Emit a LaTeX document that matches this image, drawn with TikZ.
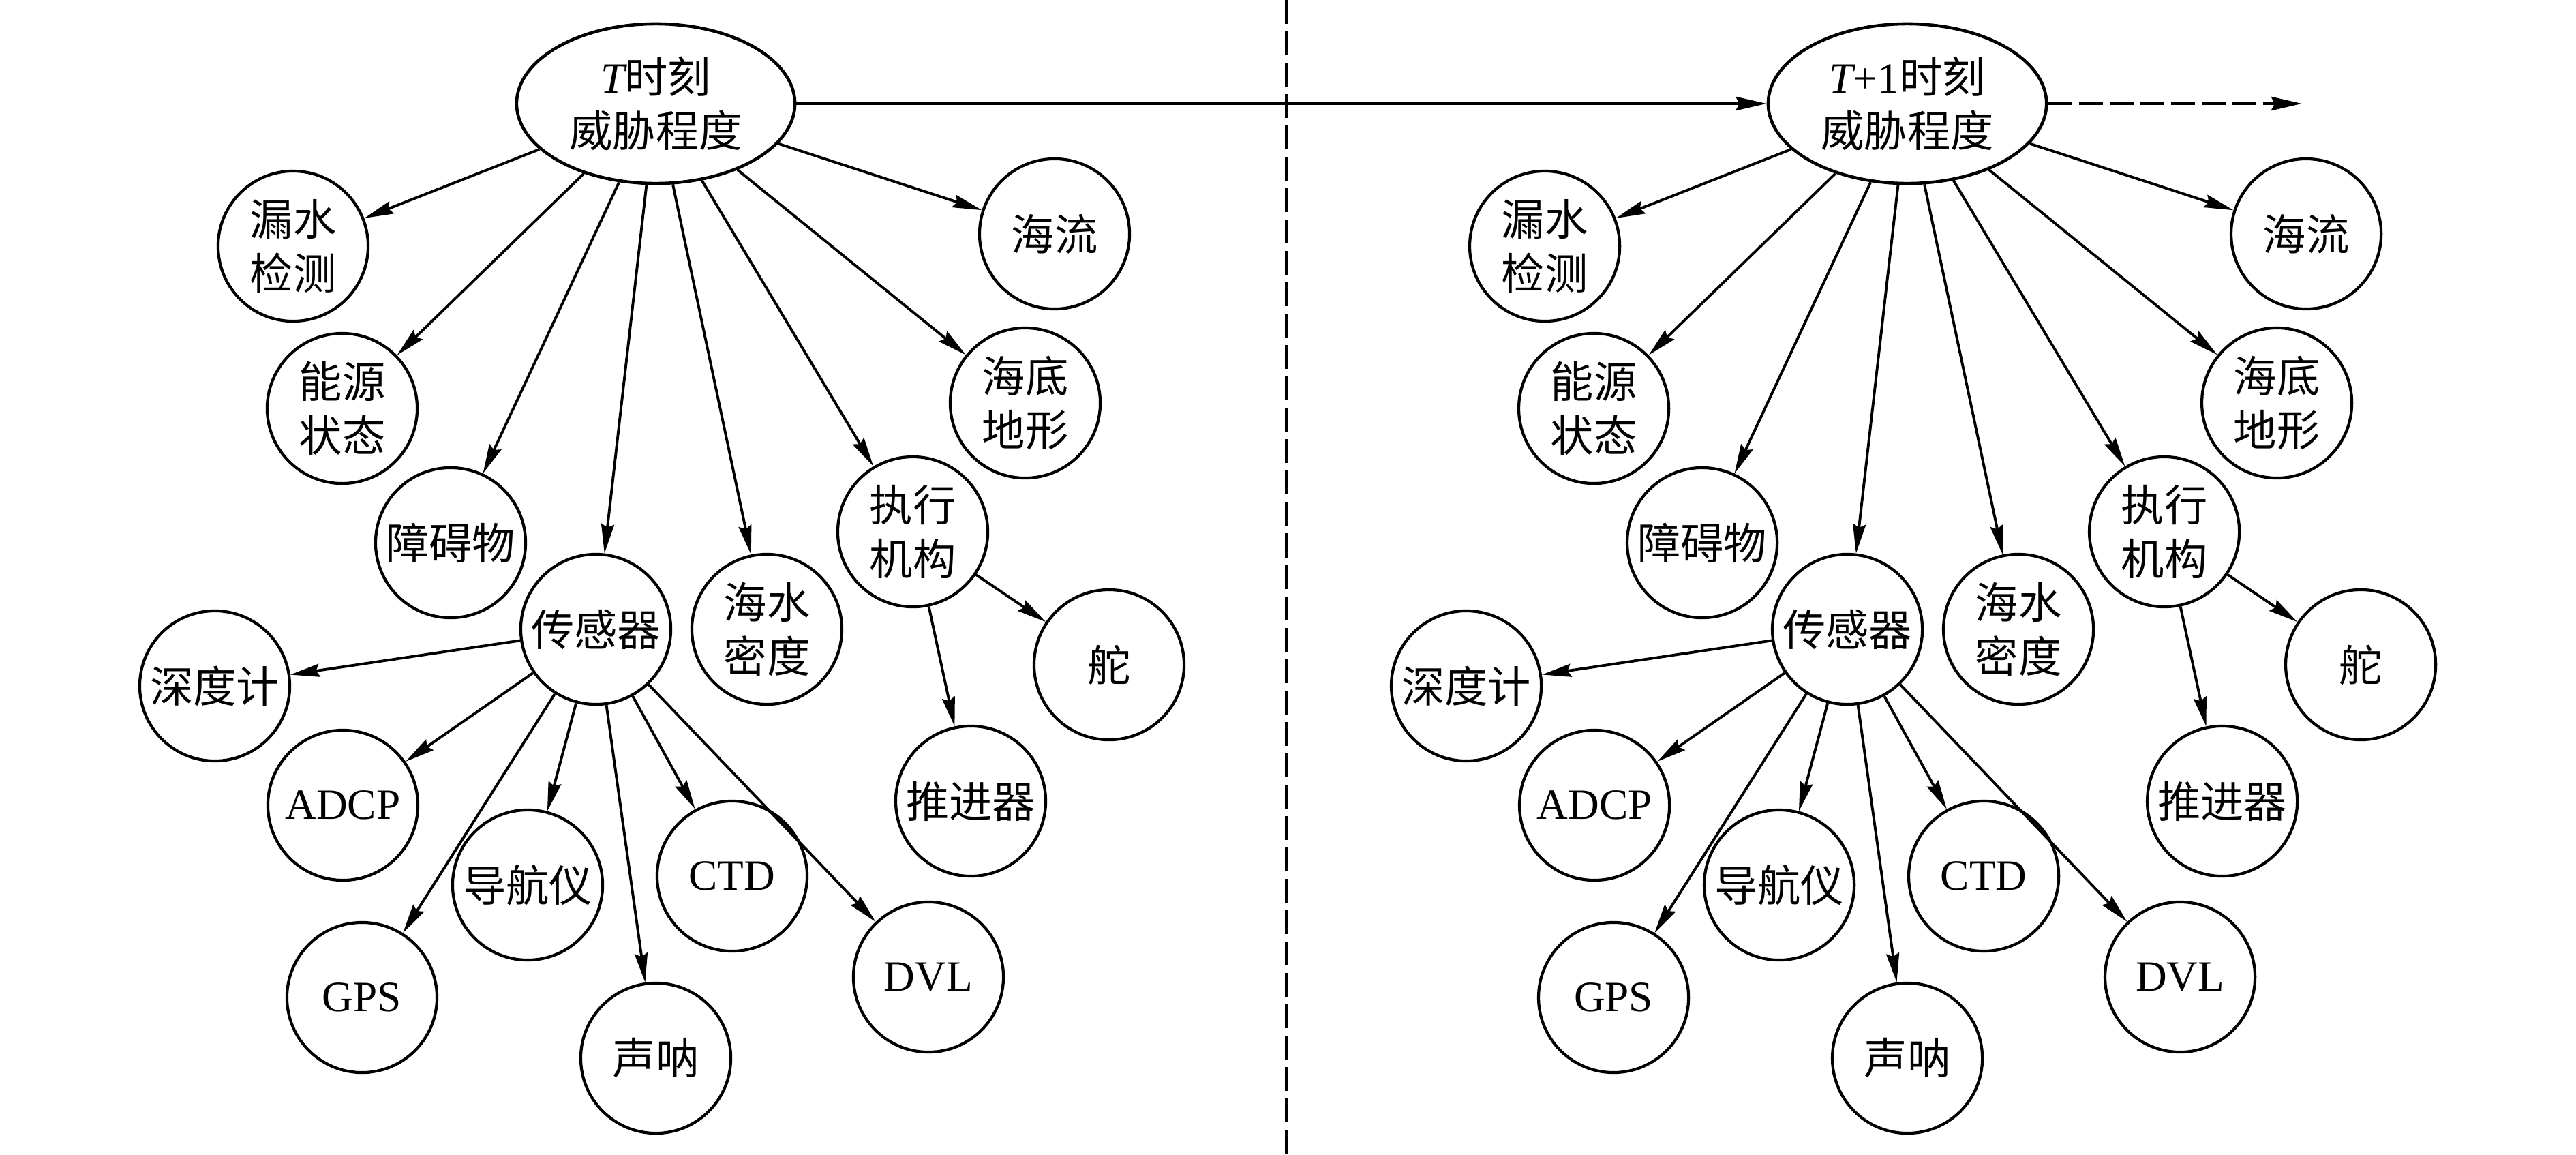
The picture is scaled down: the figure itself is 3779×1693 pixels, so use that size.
\documentclass[tikz,border=0pt]{standalone}
\usepackage{fontspec}
\setmainfont{Liberation Serif}
\newfontfamily\cjk{Noto Sans CJK SC}
\usetikzlibrary{shapes.geometric,arrows.meta}
\newcommand\drawhalf[1]{%
  \node[topnode] (T) at (962,152) {#1\\威胁程度};
  \node[circ] (lou) at (430,361) {漏水\\检测};
  \node[circ] (neng) at (502,599) {能源\\状态};
  \node[circ] (zhang) at (661,796) {障碍物};
  \node[circ] (chuan) at (874,923) {传感器};
  \node[circ] (hsmd) at (1125,923) {海水\\密度};
  \node[circ] (zhixing) at (1339,780) {执行\\机构};
  \node[circ] (hailiu) at (1547,343) {海流};
  \node[circ] (haidi) at (1504,591) {海底\\地形};
  \node[circ] (duo) at (1627,975) {舵};
  \node[circ] (shendu) at (315,1006) {深度计};
  \node[circ] (adcp) at (503,1181) {\rmfamily ADCP};
  \node[circ] (tuijin) at (1424,1175) {推进器};
  \node[circ] (daohang) at (774,1298) {导航仪};
  \node[circ] (ctd) at (1074,1285) {\rmfamily CTD};
  \node[circ] (gps) at (531,1463) {\rmfamily GPS};
  \node[circ] (dvl) at (1362,1433) {\rmfamily DVL};
  \node[circ] (shengna) at (962,1552) {声呐};
  \foreach \n in {lou,neng,zhang,chuan,hsmd,zhixing,haidi,hailiu}
    \draw[arr] (T) -- (\n);
  \foreach \n in {shendu,adcp,gps,daohang,shengna,ctd,dvl}
    \draw[arr] (chuan) -- (\n);
  \foreach \n in {duo,tuijin}
    \draw[arr] (zhixing) -- (\n);
}
\begin{document}
\begin{tikzpicture}[x=0.01cm,y=-0.01cm,
  basefont/.style={font=\fontsize{18}{22.5}\selectfont\cjk},
  circ/.style={basefont,circle,draw,line width=1.2pt,minimum size=2.2cm,inner sep=0pt,align=center},
  topnode/.style={basefont,ellipse,draw,line width=1.3pt,minimum width=4.08cm,minimum height=2.34cm,inner sep=0pt,align=center},
  arr/.style={line width=1.1pt,-{Stealth[length=0.43cm,width=0.19cm,inset=0.05cm]}},
  mainarr/.style={line width=1.4pt,-{Stealth[length=0.45cm,width=0.2cm,inset=0.05cm]}},
  sep/.style={line width=1.4pt,dash pattern=on 0.35cm off 0.11cm}
  ]
\useasboundingbox (0,0) rectangle (3779,1693);
\begin{scope}[name prefix=L-]
  \drawhalf{{\rmfamily\itshape T}时刻}
\end{scope}
\begin{scope}[xshift=18.35cm,name prefix=R-]
  \drawhalf{{\rmfamily\itshape T}{\rmfamily +1}时刻}
\end{scope}
\coordinate (vtop) at (1887,0);
\coordinate (vbot) at (1887,1693);
\draw[sep] (vtop) -- (vbot);
\draw[mainarr] (L-T) -- (R-T);
\coordinate (dend) at (3377,152);
\draw[mainarr,dash pattern=on 0.35cm off 0.1cm] (R-T) -- (dend);
\end{tikzpicture}
\end{document}
